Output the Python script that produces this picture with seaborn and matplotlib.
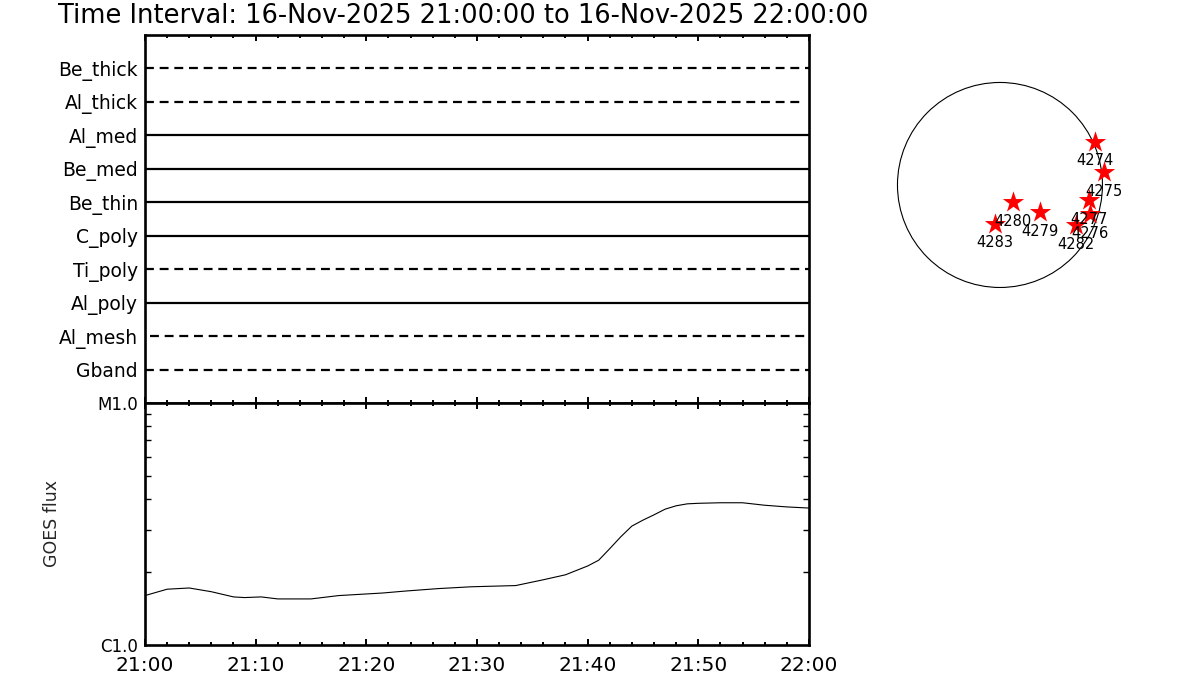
import numpy as np
import pandas as pd
import seaborn as sns
from matplotlib import pyplot as plt
from matplotlib.patches import Circle
from matplotlib.ticker import MultipleLocator, NullFormatter, FixedLocator

title = 'Time Interval: 16-Nov-2025 21:00:00 to 16-Nov-2025 22:00:00'

# filter rows, top to bottom; dashed = no exposures in the interval
filters = ['Be_thick', 'Al_thick', 'Al_med', 'Be_med', 'Be_thin',
           'C_poly', 'Ti_poly', 'Al_poly', 'Al_mesh', 'Gband']
filter_dashed = [True, True, False, False, False, False, True, False, True, True]
filter_start = [0, 0, 0, 0, 0, 0, 0, 0, 0.5, 0]
filter_end = [60, 59.5, 60, 60, 60, 60, 60, 60, 60, 60]

time_ticks = [0, 10, 20, 30, 40, 50, 60]
time_labels = ['21:00', '21:10', '21:20', '21:30', '21:40', '21:50', '22:00']

# GOES 1-8 A flux, minutes after 21:00
goes_min = [0, 2, 4, 6, 8, 9, 10.5, 12, 15, 17.5, 21.5, 23.5, 26.5, 29.5, 33.5,
            36, 38, 40, 41, 42, 43, 44, 45, 46, 47, 48, 49, 50, 52, 54, 56, 58, 60]
goes_flux = [1.60e-6, 1.70e-6, 1.72e-6, 1.66e-6, 1.58e-6, 1.57e-6, 1.58e-6, 1.55e-6,
             1.55e-6, 1.60e-6, 1.64e-6, 1.67e-6, 1.71e-6, 1.74e-6, 1.76e-6,
             1.86e-6, 1.95e-6, 2.12e-6, 2.24e-6, 2.50e-6, 2.80e-6, 3.10e-6, 3.28e-6,
             3.45e-6, 3.64e-6, 3.76e-6, 3.83e-6, 3.85e-6, 3.87e-6, 3.87e-6, 3.78e-6,
             3.72e-6, 3.68e-6]
flux_ticks = [1e-6, 1e-5]
flux_labels = ['C1.0', 'M1.0']
flux_minor = [2e-6, 3e-6, 4e-6, 5e-6, 6e-6, 7e-6, 8e-6, 9e-6]

# active regions on the disk (arcsec)
ar_num = ['4274', '4275', '4277', '4276', '4282', '4280', '4279', '4283']
ar_x = [890, 974, 835, 843, 708, 122, 374, -47]
ar_y = [407, 117, -140, -276, -379, -164, -257, -361]
r_sun = 960

sns.set_style('white')
plt.rcParams['font.family'] = ['DejaVu Sans']
plt.rcParams['axes.edgecolor'] = 'black'
plt.rcParams['axes.linewidth'] = 1.9
plt.rcParams['xtick.color'] = 'black'
plt.rcParams['ytick.color'] = 'black'
plt.rcParams['text.color'] = 'black'

fig = plt.figure(figsize=(12, 7), dpi=100)
ax1 = fig.add_axes([0.1208, 0.4243, 0.5533, 0.5257])
ax2 = fig.add_axes([0.1208, 0.0786, 0.5533, 0.3457])
ax3 = fig.add_axes([0.7333, 0.5643, 0.2, 0.3429])

# --- filter panel
for i, name in enumerate(filters):
    ls = (0, (4, 2.6)) if filter_dashed[i] else '-'
    ax1.hlines(i, filter_start[i], filter_end[i], color='black', lw=1.6, linestyles=[ls])
ax1.set_xlim(0, 60)
ax1.set_ylim(len(filters), -1)
ax1.set_yticks(range(len(filters)), filters, fontsize=13.5)
ax1.tick_params(axis='y', length=0, pad=5)
ax1.xaxis.set_major_locator(MultipleLocator(10))
ax1.xaxis.set_minor_locator(MultipleLocator(2))
ax1.xaxis.set_major_formatter(NullFormatter())
ax1.tick_params(axis='x', which='both', direction='in', top=True, bottom=True, width=1.4)
ax1.tick_params(axis='x', which='major', length=4.5)
ax1.tick_params(axis='x', which='minor', length=2.5)

# --- GOES panel
goes = pd.DataFrame({'minute': goes_min, 'flux': goes_flux})
sns.lineplot(x='minute', y='flux', data=goes, ax=ax2, color='black', lw=0.8)
ax2.set_yscale('log')
ax2.set_ylim(flux_ticks[0], flux_ticks[-1])
ax2.set_xlim(0, 60)
ax2.yaxis.set_major_locator(FixedLocator(flux_ticks))
ax2.set_yticklabels(flux_labels, fontsize=12)
ax2.yaxis.set_minor_locator(FixedLocator(flux_minor))
ax2.yaxis.set_minor_formatter(NullFormatter())
ax2.tick_params(axis='y', which='major', length=0, pad=5)
ax2.tick_params(axis='y', which='minor', direction='in', left=True, right=True,
                length=4.5, width=1.0)
ax2.set_xticks(time_ticks, time_labels, fontsize=14.5)
ax2.xaxis.set_minor_locator(MultipleLocator(2))
ax2.tick_params(axis='x', which='both', direction='in', top=True, bottom=True,
                width=1.4, pad=8)
ax2.tick_params(axis='x', which='major', length=4.5)
ax2.tick_params(axis='x', which='minor', length=2.5)
ax2.set_xlabel('')
ax2.set_ylabel('GOES flux', fontsize=12.5, labelpad=26)

# --- solar disk
ax3.add_patch(Circle((0, 0), r_sun, fill=False, lw=0.8, color='black'))
sns.scatterplot(x=ar_x, y=ar_y, ax=ax3, marker='*', s=260, color='red',
                edgecolor='red', linewidth=0, zorder=3)
for num, x, y in zip(ar_num, ar_x, ar_y):
    ax3.annotate(num, (x, y), xytext=(0, -14), textcoords='offset points',
                 ha='center', va='center', fontsize=10.5, zorder=4)
lim = 1124
ax3.set_xlim(-lim, lim)
ax3.set_ylim(-lim, lim)
ax3.axis('off')

fig.text(58 / 1200, 1 - 16 / 700, title, fontsize=18.5, va='center', ha='left')

fig.savefig('out.png', dpi=100)
